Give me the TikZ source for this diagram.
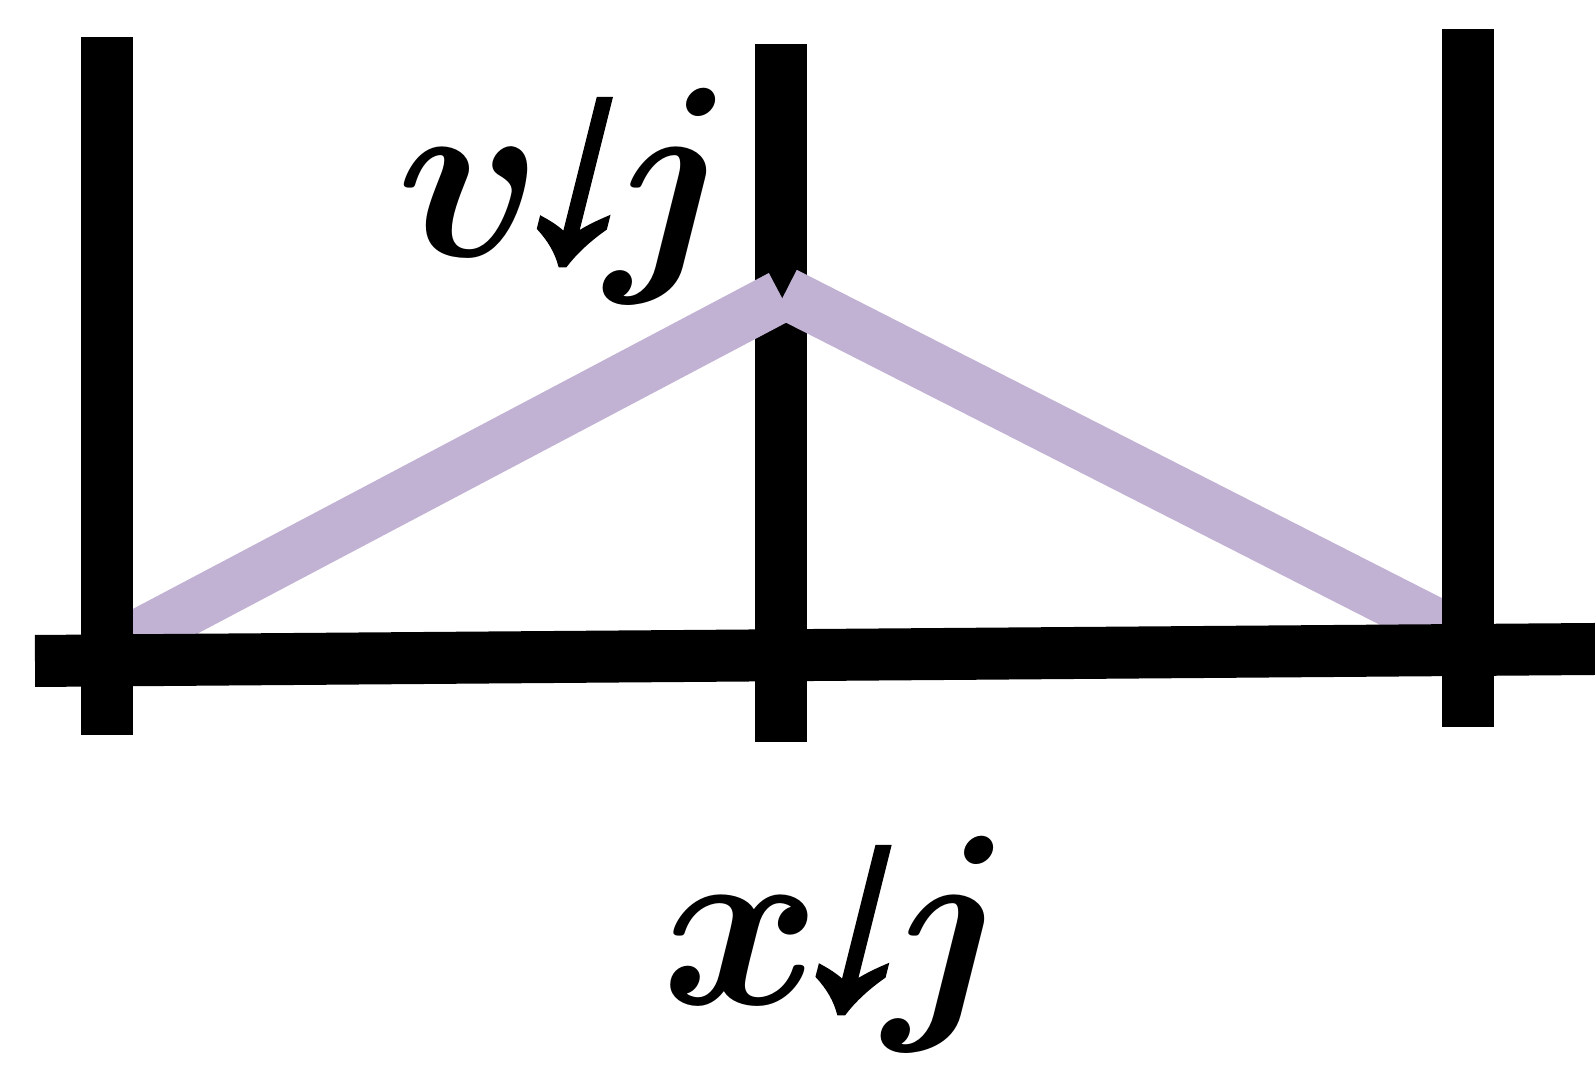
\documentclass[tikz,border=0pt]{standalone}
\usepackage{fix-cm}
\usepackage{fontspec}
\newfontfamily\arrfont[FakeSlant=0.25,FakeBold=1.5]{Liberation Serif}
\definecolor{lilac}{HTML}{C1B2D3}
\newcommand{\slantdown}{\hbox{\arrfont\fontsize{80}{90}\selectfont ↓}}
\begin{document}
\begin{tikzpicture}[bar/.style={line width=0.52cm},
  hat/.style={line width=0.52cm,lilac},
  lbl/.style={anchor=base,inner sep=0pt,font=\fontsize{69}{80}\selectfont\boldmath}]
\useasboundingbox (0,0) rectangle (15.95,10.65);
% middle bar lies under the hat
\draw[bar] (7.805,3.23) -- (7.805,10.21);
\draw[hat] (1.07,4.13) -- (7.81,7.69);
\draw[hat] (7.85,7.72) -- (14.67,4.25);
\draw[bar] (1.07,3.30) -- (1.07,10.28);
\draw[bar] (14.675,3.38) -- (14.675,10.36);
\draw[bar] (0.35,4.04) -- (15.95,4.16);

\node[lbl] (top) at (5.66,8.08) {$v\kern-0.2em\slantdown\kern-0.12em j$};
\node[lbl] (bottom) at (8.38,0.60) {$x\kern-0.2em\slantdown\kern-0.12em j$};
\end{tikzpicture}
\end{document}
